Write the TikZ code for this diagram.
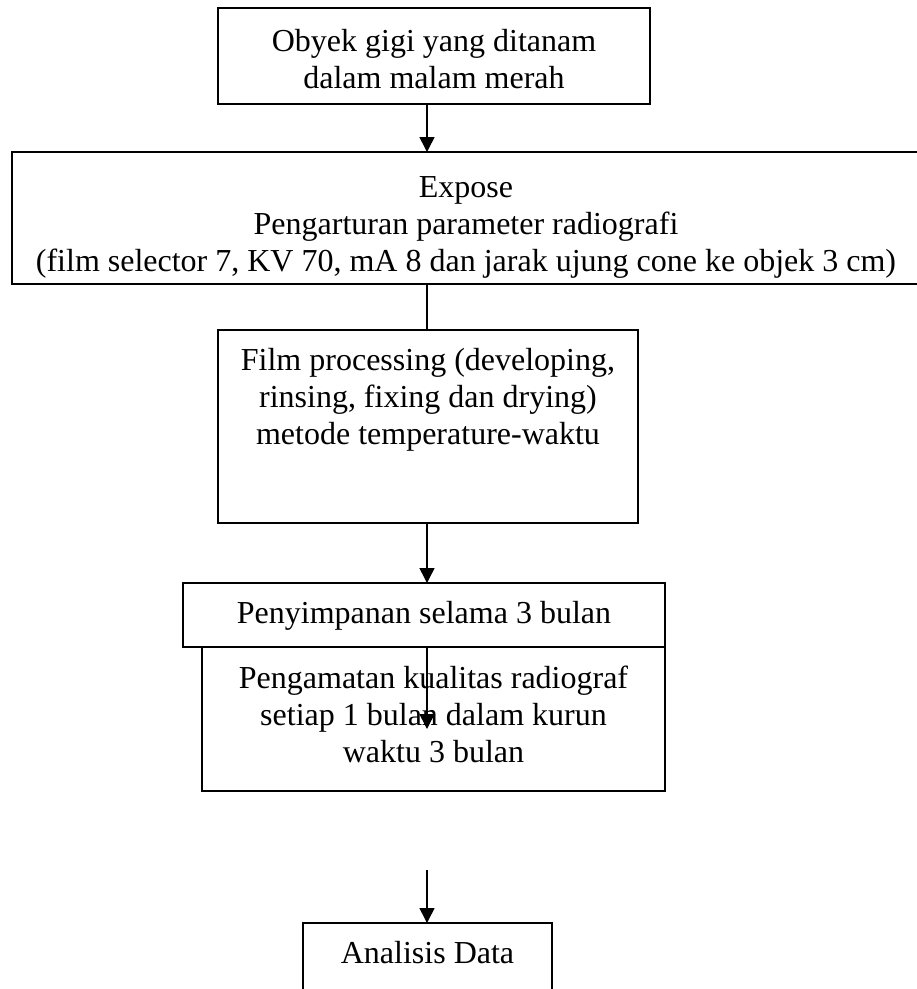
\documentclass[tikz,border=0pt]{standalone}
\usepackage{fontspec}
\setmainfont{Liberation Serif}
\usetikzlibrary{arrows.meta}
\begin{document}
\begin{tikzpicture}[x=1pt,y=1pt,
  box/.style={draw=black, line width=1.6pt, rectangle, inner sep=0pt, outer sep=0pt},
  txt/.style={inner sep=0pt, outer sep=0pt, align=center, anchor=north,
    font=\fontsize{32}{37}\selectfont},
  arr/.style={line width=1.6pt, -{Triangle[width=15pt,length=15pt]}},
  conn/.style={line width=1.6pt}]
\fill[white] (0,0) rectangle (917,-989);
\useasboundingbox (0,0) rectangle (917,-989);
\coordinate (ax) at (427,0);
% boxes
\node[box, minimum width=432pt, minimum height=96pt] (b1) at (434,-56) {};
\node[box, minimum width=912pt, minimum height=132pt] (b2) at (468,-218) {};
\node[box, minimum width=420pt, minimum height=193pt] (b3) at (428,-426.5) {};
\node[box, minimum width=482pt, minimum height=64pt] (b4) at (424,-615) {};
\node[box, minimum width=463pt, minimum height=144pt] (b5) at (433.5,-719) {};
\node[box, minimum width=249pt, minimum height=84pt] (b6) at (427.5,-965) {};
% texts
\node[txt] (t1) at (434,-25.1) {\strut Obyek gigi yang ditanam\\ dalam malam merah};
\node[txt] (t2) at (466,-171.1) {\strut Expose\\ Pengarturan parameter radiografi\\ (film selector 7, KV 70, mA 8 dan jarak ujung cone ke objek 3 cm)};
\node[txt] (t3) at (428,-344.1) {\strut Film processing (developing,\\ rinsing, fixing dan drying)\\ metode temperature-waktu};
\node[txt] (t4) at (424,-597.1) {\strut Penyimpanan selama 3 bulan};
\node[txt] (t5) at (433.5,-662.1) {\strut Pengamatan kualitas radiograf\\ setiap 1 bulan dalam kurun\\ waktu 3 bulan};
\node[txt] (t6) at (427.5,-937.1) {\strut Analisis Data};
% connectors
\coordinate (e5) at (427,-729);
\coordinate (s6) at (427,-870);
\draw[arr] (b1.south -| ax) -- (b2.north -| ax);
\draw[conn] (b2.south -| ax) -- (b3.north -| ax);
\draw[arr] (b3.south -| ax) -- (b4.north -| ax);
\draw[arr] (b4.south -| ax) -- (e5);
\draw[arr] (s6) -- (b6.north -| ax);
\end{tikzpicture}
\end{document}
